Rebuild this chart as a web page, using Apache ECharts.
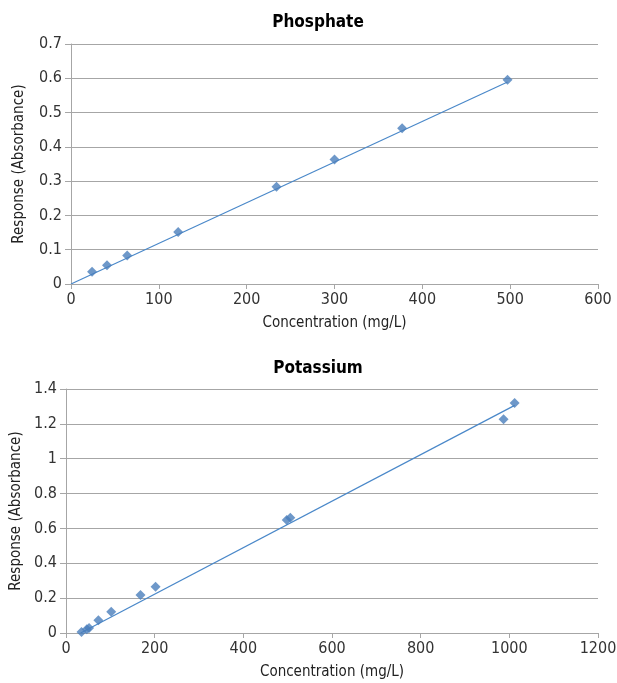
<!DOCTYPE html>
<html>
<head>
<meta charset="utf-8" />
<script src="https://cdn.jsdelivr.net/npm/echarts@6/dist/echarts.min.js"></script>
<style>
  html, body { margin: 0; padding: 0; background: #ffffff; }
  #chart { width: 617px; height: 683px; }
</style>
</head>
<body>
<div id="chart"></div>
<script>
// Phosphate standards
const phosphateConc = [24, 41, 64, 122, 234, 300, 377, 497];
const phosphateAbs = [0.036, 0.055, 0.083, 0.152, 0.284, 0.363, 0.454, 0.596];
const phosphateTrendX = [0, 497];
const phosphateTrendY = [0, 0.589];

// Potassium standards
const potassiumConc = [35, 47, 52, 73, 102, 168, 202, 498, 506, 987, 1012];
const potassiumAbs = [0.006, 0.021, 0.029, 0.073, 0.122, 0.218, 0.265, 0.649, 0.661, 1.226, 1.32];
const potassiumTrendX = [33, 1012];
const potassiumTrendY = [0, 1.306];

const titles = ["Phosphate", "Potassium"];
const xAxisName = "Concentration (mg/L)";
const yAxisName = "Response (Absorbance)";

const font = "'DejaVu Sans Condensed', 'Roboto', sans-serif";
const pointColor = "#4a7ebb";
const lineColor = "#4a88c9";

const zip = (xs, ys) => xs.map((x, i) => [x, ys[i]]);

const chart = echarts.init(document.getElementById("chart"));

const xAxisBase = {
  type: "value",
  name: xAxisName,
  nameLocation: "middle",
  nameGap: 32,
  nameTextStyle: { fontFamily: font, fontSize: 15, color: "#222" },
  axisLine: { show: true, lineStyle: { color: "#a6a6a6", width: 1 } },
  axisTick: { show: true, length: 5, lineStyle: { color: "#a6a6a6" } },
  axisLabel: { fontFamily: font, fontSize: 16, color: "#333", margin: 8, formatter: (v) => String(v) },
  splitLine: { show: false },
};

const yAxisBase = {
  type: "value",
  name: yAxisName,
  nameLocation: "middle",
  nameRotate: 90,
  nameTextStyle: { fontFamily: font, fontSize: 15, color: "#222" },
  axisLine: { show: true, lineStyle: { color: "#a6a6a6", width: 1 } },
  axisTick: { show: true, length: 6, lineStyle: { color: "#a6a6a6" } },
  axisLabel: { fontFamily: font, fontSize: 16, color: "#333", margin: 9, formatter: (v) => String(v) },
  splitLine: { show: true, lineStyle: { color: "#a6a6a6", width: 1.2 } },
};

const option = {
  animation: false,
  backgroundColor: "#ffffff",
  title: [
    {
      text: titles[0],
      left: 313,
      top: 9,
      textAlign: "center",
      textStyle: { fontFamily: font, fontSize: 17, fontWeight: "bold", color: "#000" },
    },
    {
      text: titles[1],
      left: 313,
      top: 355,
      textAlign: "center",
      textStyle: { fontFamily: font, fontSize: 17, fontWeight: "bold", color: "#000" },
    },
  ],
  grid: [
    { left: 71, right: 19, top: 44, height: 240, outerBoundsMode: "none" },
    { left: 66, right: 19, top: 389, height: 244, outerBoundsMode: "none" },
  ],
  xAxis: [
    Object.assign({}, xAxisBase, { gridIndex: 0, min: 0, max: 600, interval: 100 }),
    Object.assign({}, xAxisBase, { gridIndex: 1, min: 0, max: 1200, interval: 200 }),
  ],
  yAxis: [
    Object.assign({}, yAxisBase, { gridIndex: 0, min: 0, max: 0.7, interval: 0.1, nameGap: 44 }),
    Object.assign({}, yAxisBase, { gridIndex: 1, min: 0, max: 1.4, interval: 0.2, nameGap: 40 }),
  ],
  series: [
    {
      name: "Phosphate trend",
      type: "line",
      xAxisIndex: 0,
      yAxisIndex: 0,
      data: zip(phosphateTrendX, phosphateTrendY),
      showSymbol: false,
      lineStyle: { color: lineColor, width: 1.2 },
      z: 2,
    },
    {
      name: "Phosphate",
      type: "scatter",
      xAxisIndex: 0,
      yAxisIndex: 0,
      data: zip(phosphateConc, phosphateAbs),
      symbol: "diamond",
      symbolSize: 10,
      itemStyle: { color: pointColor },
      z: 3,
    },
    {
      name: "Potassium trend",
      type: "line",
      xAxisIndex: 1,
      yAxisIndex: 1,
      data: zip(potassiumTrendX, potassiumTrendY),
      showSymbol: false,
      lineStyle: { color: lineColor, width: 1.2 },
      z: 2,
    },
    {
      name: "Potassium",
      type: "scatter",
      xAxisIndex: 1,
      yAxisIndex: 1,
      data: zip(potassiumConc, potassiumAbs),
      symbol: "diamond",
      symbolSize: 10,
      itemStyle: { color: pointColor },
      z: 3,
    },
  ],
};

chart.setOption(option);
</script>
</body>
</html>
